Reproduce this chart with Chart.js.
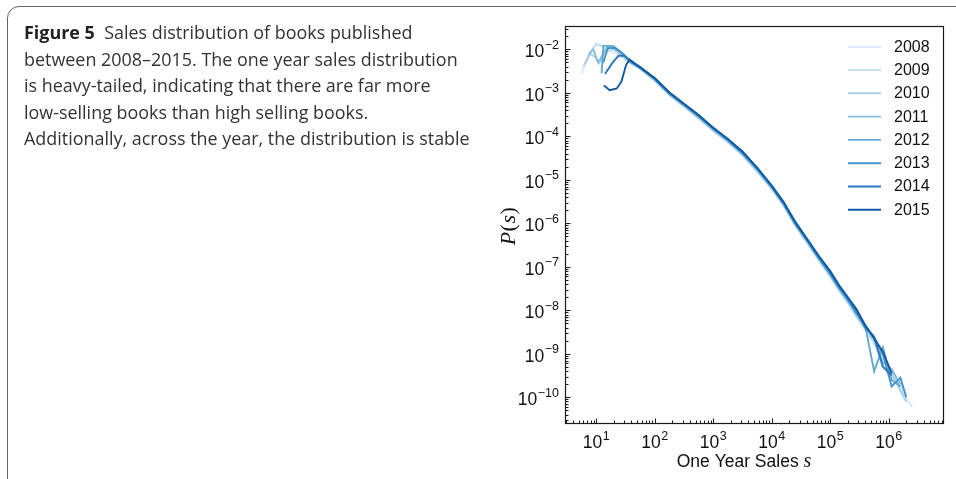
<!DOCTYPE html>
<html>
<head>
<meta charset="utf-8">
<script src="https://cdn.jsdelivr.net/npm/chart.js@4/dist/chart.umd.min.js"></script>
<style>
  html, body { margin: 0; padding: 0; background: #fff; }
  body { width: 956px; height: 479px; position: relative; overflow: hidden; }
  #frame { position: absolute; left: 7px; top: 6px; width: 1000px; height: 490px;
           border: 1px solid #666; border-radius: 12px; box-sizing: border-box; }
  #caption { position: absolute; left: 24px; top: 19px; font-family: 'Open Sans', 'Noto Sans', sans-serif;
             font-size: 17px; line-height: 26.5px; color: #333; z-index: 2; }
  #caption div { white-space: nowrap; }
  #caption b { font-weight: 700; color: #231f20; }
  canvas { position: absolute; left: 0; top: 0; z-index: 1; }
</style>
</head>
<body>
<div id="frame"></div>
<div id="caption">
  <div><b>Figure 5</b>&nbsp; Sales distribution of books published</div>
  <div>between 2008–2015. The one year sales distribution</div>
  <div>is heavy-tailed, indicating that there are far more</div>
  <div>low-selling books than high selling books.</div>
  <div id="longLine">Additionally, across the year, the distribution is stable</div>
</div>
<canvas id="chart" width="956" height="479"></canvas>
<script>
// Years shown in the legend, oldest first
const years = ['2008', '2009', '2010', '2011', '2012', '2013', '2014', '2015'];
const lineColors = ['#dbe9f6', '#c8ddf0', '#a9cfe5', '#86bddc', '#64a9d3', '#4594c7', '#2a79b9', '#0f5aa3'];

// Low-sales bins (each year starts at a slightly different minimum)
const headSales2008 = [5.6, 7.1, 8.9, 11.2, 14.1, 17.8, 22.4, 28.2, 35.5];
const headP2008     = [2.8e-3, 6.3e-3, 1.12e-2, 1.26e-2, 1.12e-2, 8.9e-3, 7.9e-3, 6.3e-3, 5.0e-3];
const headSales2009 = [6.0, 7.6, 10, 12.6, 15.8, 20, 25.1, 31.6, 39.8];
const headP2009     = [4.0e-3, 7.9e-3, 1.35e-2, 1.17e-2, 8.9e-3, 1.0e-2, 8.3e-3, 6.0e-3, 4.8e-3];
const headSales2010 = [6.3, 7.9, 10, 11.2, 14.1, 17.8, 22.4, 28.2, 35.5];
const headP2010     = [4.5e-3, 7.9e-3, 6.3e-3, 4.8e-3, 8.9e-3, 1.12e-2, 8.9e-3, 7.1e-3, 5.2e-3];
const headSales2011 = [7.4, 8.9, 10.7, 12.6, 15.8, 20, 26.3, 33.1, 41.7];
const headP2011     = [7.6e-3, 1.0e-2, 5.0e-3, 7.1e-3, 1.17e-2, 1.05e-2, 8.9e-3, 6.3e-3, 4.7e-3];
const headSales2012 = [12.3, 13.2, 19.5, 24, 29.5, 37.2];
const headP2012     = [2.8e-3, 1.2e-2, 1.2e-2, 9.5e-3, 7.6e-3, 5.4e-3];
const headSales2013 = [13.2, 15.8, 20.9, 26.3, 33.1, 41.7];
const headP2013     = [5.0e-3, 1.07e-2, 1.07e-2, 8.5e-3, 6.3e-3, 4.8e-3];
const headSales2014 = [14.1, 19.1, 24, 30.2, 38, 45.7];
const headP2014     = [2.7e-3, 5.0e-3, 7.1e-3, 7.1e-3, 5.6e-3, 4.7e-3];
const headSales2015 = [13.5, 17, 22.4, 26.9, 32.4, 37.2, 44.7];
const headP2015     = [1.48e-3, 1.15e-3, 1.26e-3, 1.82e-3, 4.4e-3, 5.8e-3, 4.8e-3];

// Shared logarithmic bins from ~50 copies upward
const trunkSales = [56, 100, 178, 316, 562, 1000, 1780, 3160, 5620, 1.0e4, 1.58e4, 2.51e4, 3.98e4,
                    6.31e4, 1.0e5, 1.41e5, 2.0e5, 2.82e5, 3.98e5, 5.62e5, 7.94e5, 1.12e6, 1.58e6, 2.0e6, 2.51e6];
const trunkP2008 = [3.55e-3, 1.86e-3, 8.71e-4, 4.68e-4, 2.51e-4, 1.29e-4, 7.08e-5, 3.55e-5, 1.51e-5, 6.03e-6, 2.51e-6,
                    8.71e-7, 3.55e-7, 1.38e-7, 5.75e-8, 2.75e-8, 1.45e-8, 6.92e-9, 3.47e-9, 1.66e-9, 7.08e-10,
                    3.16e-10, 1.58e-10, 9.12e-11, 6.03e-11];
const trunkP2009 = [3.63e-3, 1.91e-3, 8.91e-4, 4.90e-4, 2.63e-4, 1.35e-4, 7.41e-5, 3.72e-5, 1.58e-5, 6.31e-6, 2.63e-6,
                    9.12e-7, 3.72e-7, 1.48e-7, 6.03e-8, 2.88e-8, 1.51e-8, 7.59e-9, 3.55e-9, 1.78e-9, 8.91e-10,
                    2.82e-10, 2.00e-10, 8.91e-11, null];
const trunkP2010 = [3.63e-3, 1.95e-3, 9.12e-4, 5.01e-4, 2.69e-4, 1.38e-4, 7.59e-5, 3.80e-5, 1.62e-5, 6.46e-6, 2.69e-6,
                    9.33e-7, 3.80e-7, 1.51e-7, 6.31e-8, 3.02e-8, 1.58e-8, 7.08e-9, 3.80e-9, 2.00e-9, 5.01e-10,
                    3.98e-10, 1.41e-10, 7.94e-11, null];
const trunkP2011 = [3.72e-3, 2.00e-3, 9.33e-4, 5.13e-4, 2.75e-4, 1.41e-4, 7.76e-5, 3.89e-5, 1.70e-5, 6.46e-6, 2.75e-6,
                    9.55e-7, 3.89e-7, 1.55e-7, 6.46e-8, 3.16e-8, 1.62e-8, 8.91e-9, 4.47e-9, 2.24e-9, 6.31e-10,
                    4.47e-10, 2.00e-10, null, null];
const trunkP2012 = [3.80e-3, 2.04e-3, 9.55e-4, 5.25e-4, 2.88e-4, 1.48e-4, 8.13e-5, 4.07e-5, 1.78e-5, 6.76e-6, 2.88e-6,
                    9.77e-7, 4.07e-7, 1.62e-7, 6.76e-8, 3.31e-8, 1.74e-8, 8.91e-9, 4.17e-9, 3.98e-10, 1.41e-9,
                    2.51e-10, 1.78e-10, null, null];
const trunkP2013 = [3.89e-3, 2.09e-3, 9.77e-4, 5.37e-4, 2.95e-4, 1.51e-4, 8.32e-5, 4.17e-5, 1.82e-5, 6.92e-6, 2.95e-6,
                    1.00e-6, 4.17e-7, 1.66e-7, 7.08e-8, 3.39e-8, 1.78e-8, 8.32e-9, 4.47e-9, 2.40e-9, 1.00e-9,
                    1.78e-10, 2.82e-10, 1.00e-10, null];
const trunkP2014 = [3.98e-3, 2.14e-3, 1.00e-3, 5.50e-4, 3.02e-4, 1.55e-4, 8.51e-5, 4.27e-5, 1.86e-5, 7.08e-6, 3.02e-6,
                    1.05e-6, 4.27e-7, 1.70e-7, 7.59e-8, 3.55e-8, 1.91e-8, 9.55e-9, 3.98e-9, 2.51e-9, 5.01e-10,
                    3.16e-10, null, null, null];
const trunkP2015 = [3.80e-3, 2.19e-3, 1.02e-3, 5.62e-4, 3.09e-4, 1.58e-4, 8.71e-5, 4.47e-5, 1.91e-5, 7.41e-6, 3.16e-6,
                    1.10e-6, 4.47e-7, 1.82e-7, 7.94e-8, 3.80e-8, 2.00e-8, 1.05e-8, 4.47e-9, 2.24e-9, 1.12e-9,
                    3.55e-10, null, null, null];

// Axis tick decades
const xTickExps = [1, 2, 3, 4, 5, 6];
const yTickExps = [-2, -3, -4, -5, -6, -7, -8, -9, -10];

// Fit the caption's longest line to its column width
(function fitCaption() {
  const cap = document.getElementById('caption');
  const w = document.getElementById('longLine').getBoundingClientRect().width;
  cap.style.fontSize = (17 * 446 / w).toFixed(2) + 'px';
})();

const headSales = [headSales2008, headSales2009, headSales2010, headSales2011, headSales2012, headSales2013, headSales2014, headSales2015];
const headP = [headP2008, headP2009, headP2010, headP2011, headP2012, headP2013, headP2014, headP2015];
const trunkP = [trunkP2008, trunkP2009, trunkP2010, trunkP2011, trunkP2012, trunkP2013, trunkP2014, trunkP2015];

const datasets = years.map((yr, i) => {
  const pts = headSales[i].map((s, j) => ({ x: s, y: headP[i][j] }));
  trunkSales.forEach((s, j) => { if (trunkP[i][j] !== null) pts.push({ x: s, y: trunkP[i][j] }); });
  return {
    label: yr, data: pts, borderColor: lineColors[i], backgroundColor: lineColors[i],
    borderWidth: 1.9, pointRadius: 0, fill: false, tension: 0, order: years.length - i
  };
});

const SUP_MINUS = '\u2212';
const BASE_FONT = '17.5px "Liberation Sans", Arial, sans-serif';
const SUP_FONT = '12.5px "Liberation Sans", Arial, sans-serif';

function drawPower(ctx, exp, x, y, mode) {
  const base = '10';
  const sup = exp < 0 ? SUP_MINUS + Math.abs(exp) : String(exp);
  ctx.font = BASE_FONT;
  const wb = ctx.measureText(base).width;
  ctx.font = SUP_FONT;
  const ws = ctx.measureText(sup).width;
  const total = wb + ws + 0.5;
  let left, baseY, supY;
  if (mode === 'x') { left = x - total / 2; baseY = y; supY = y - 8; }
  else { left = x - total; baseY = y + 8; supY = y - 0.5; }
  ctx.fillStyle = '#111';
  ctx.textAlign = 'left';
  ctx.textBaseline = 'alphabetic';
  ctx.font = BASE_FONT;
  ctx.fillText(base, left, baseY);
  ctx.font = SUP_FONT;
  ctx.fillText(sup, left + wb + 0.5, supY);
}

const axesPlugin = {
  id: 'mplAxes',
  afterDatasetsDraw(chart) {
    const ctx = chart.ctx;
    const a = chart.chartArea;
    const xs = chart.scales.x, ys = chart.scales.y;
    ctx.save();

    // spines
    ctx.strokeStyle = '#1a1a1a';
    ctx.lineWidth = 1.2;
    ctx.strokeRect(Math.round(a.left) + 0.5, Math.round(a.top) + 0.5,
                   Math.round(a.right - a.left) - 1, Math.round(a.bottom - a.top) - 1);

    // inward ticks, major and minor
    ctx.lineWidth = 1;
    ctx.beginPath();
    for (let n = 0; n <= 7; n++) {
      for (let k = 1; k <= 9; k++) {
        const v = k * Math.pow(10, n);
        if (v < xs.min || v > xs.max) continue;
        const px = Math.round(xs.getPixelForValue(v)) + 0.5;
        const len = k === 1 ? 4.5 : 2.5;
        ctx.moveTo(px, a.bottom - 1);
        ctx.lineTo(px, a.bottom - 1 - len);
      }
    }
    for (let n = -12; n <= -1; n++) {
      for (let k = 1; k <= 9; k++) {
        const v = k * Math.pow(10, n);
        if (v < ys.min || v > ys.max) continue;
        const py = Math.round(ys.getPixelForValue(v)) + 0.5;
        const len = k === 1 ? 4.5 : 2.5;
        ctx.moveTo(a.left + 1, py);
        ctx.lineTo(a.left + 1 + len, py);
      }
    }
    ctx.stroke();

    // tick labels
    xTickExps.forEach(e => drawPower(ctx, e, xs.getPixelForValue(Math.pow(10, e)), 448, 'x'));
    yTickExps.forEach(e => drawPower(ctx, e, a.left - 6, ys.getPixelForValue(Math.pow(10, e)), 'y'));

    // x title: "One Year Sales s"
    ctx.fillStyle = '#111';
    ctx.textBaseline = 'alphabetic';
    const t1 = 'One Year Sales ';
    ctx.font = '17.5px "Liberation Sans", Arial, sans-serif';
    const w1 = ctx.measureText(t1).width;
    ctx.font = 'italic 20px "Liberation Serif", "DejaVu Serif", serif';
    const w2 = ctx.measureText('s').width;
    const startX = 744 - (w1 + w2) / 2;
    ctx.font = '17.5px "Liberation Sans", Arial, sans-serif';
    ctx.fillText(t1, startX, 467);
    ctx.font = 'italic 20px "Liberation Serif", "DejaVu Serif", serif';
    ctx.fillText('s', startX + w1, 467);

    // y title: P(s)
    ctx.save();
    ctx.translate(508, 226);
    ctx.rotate(-Math.PI / 2);
    const parts = [
      ['P', 'italic 22px "Liberation Serif", "DejaVu Serif", serif'],
      ['(', '22px "Liberation Serif", "DejaVu Serif", serif'],
      ['s', 'italic 22px "Liberation Serif", "DejaVu Serif", serif'],
      [')', '22px "Liberation Serif", "DejaVu Serif", serif']
    ];
    let tw = 0;
    parts.forEach(p => { ctx.font = p[1]; tw += ctx.measureText(p[0]).width + 0.5; });
    let cx = -tw / 2;
    parts.forEach(p => { ctx.font = p[1]; ctx.fillText(p[0], cx, 7); cx += ctx.measureText(p[0]).width + 0.5; });
    ctx.restore();

    // legend
    chart.data.datasets.forEach((ds, i) => {
      const ly = 46.7 + 23.3 * i;
      ctx.strokeStyle = ds.borderColor;
      ctx.lineWidth = 1.9;
      ctx.beginPath();
      ctx.moveTo(848, ly);
      ctx.lineTo(881, ly);
      ctx.stroke();
      ctx.fillStyle = '#111';
      ctx.font = '16px "Liberation Sans", Arial, sans-serif';
      ctx.textAlign = 'left';
      ctx.textBaseline = 'middle';
      ctx.fillText(ds.label, 894, ly + 0.5);
    });

    ctx.restore();
  }
};

new Chart(document.getElementById('chart').getContext('2d'), {
  type: 'line',
  data: { datasets },
  options: {
    responsive: false,
    animation: false,
    devicePixelRatio: 1,
    layout: { padding: { left: 565, top: 26, right: 12, bottom: 55 } },
    scales: {
      x: { type: 'logarithmic', min: 2.92, max: 8.8e6, display: false },
      y: { type: 'logarithmic', min: 2.43e-11, max: 3.44e-2, display: false }
    },
    plugins: { legend: { display: false }, tooltip: { enabled: false } },
    elements: { point: { radius: 0 }, line: { tension: 0 } }
  },
  plugins: [axesPlugin]
});
</script>
</body>
</html>
